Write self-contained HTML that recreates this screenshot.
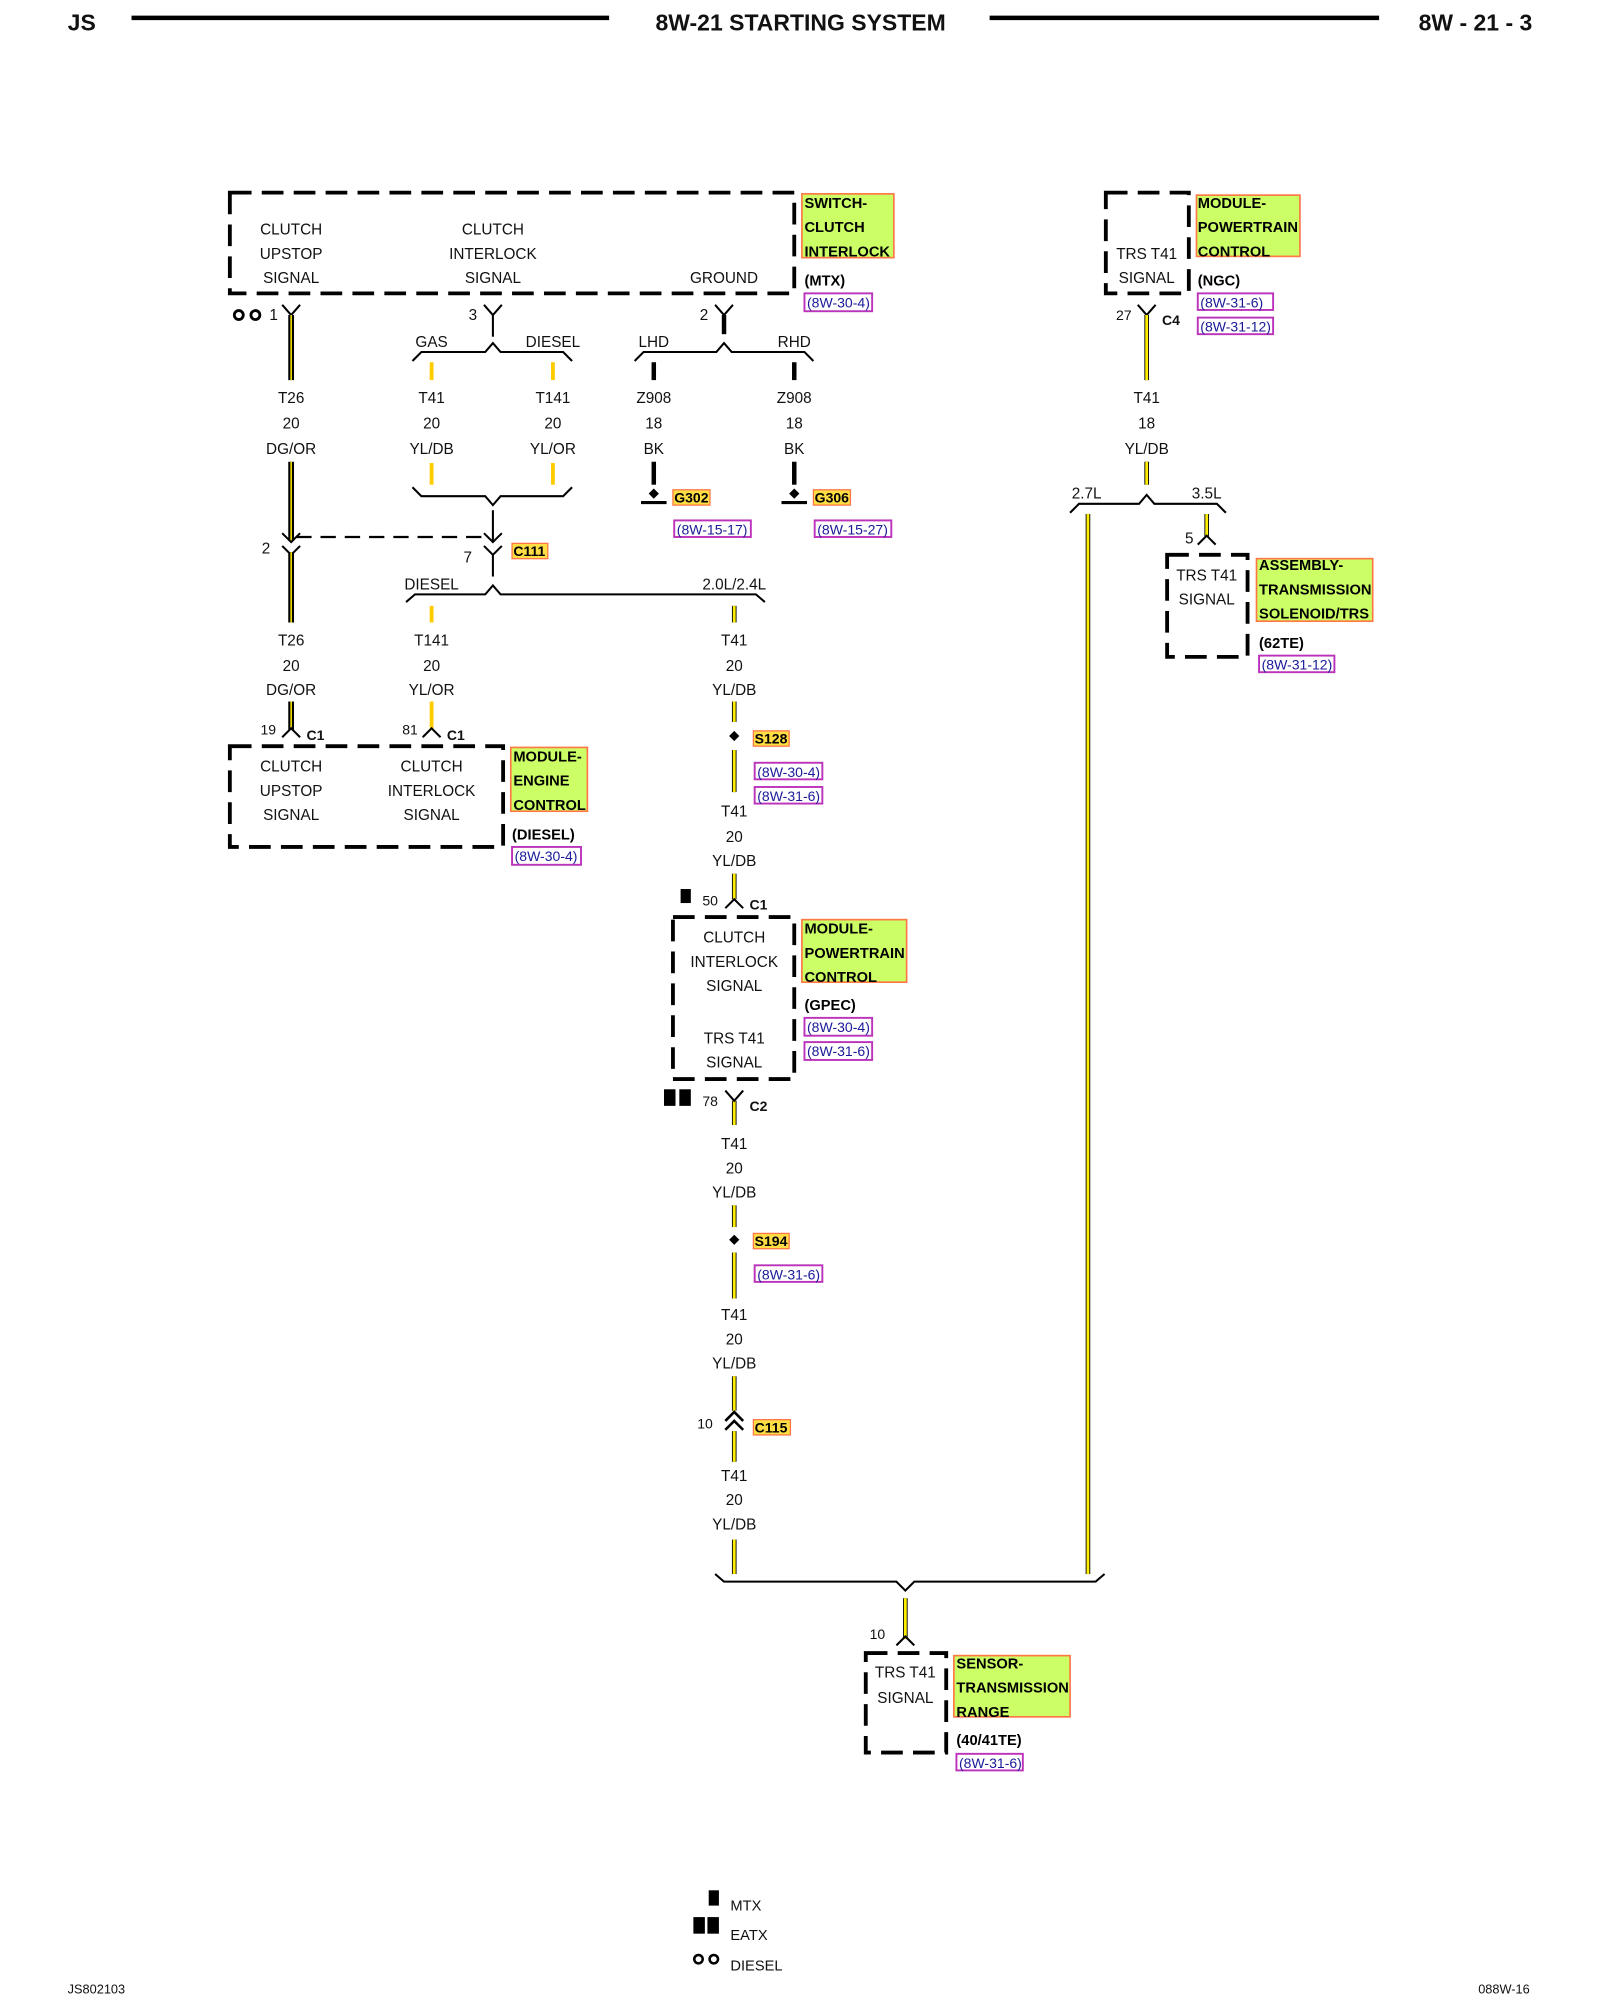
<!DOCTYPE html>
<html><head><meta charset="utf-8"><style>
html,body{margin:0;padding:0;background:#fff}
svg{display:block}
text{font-family:"Liberation Sans",sans-serif;font-size:12px;fill:#111}
.c{text-anchor:middle}
.b{font-weight:bold}
.h{font-weight:bold;font-size:11.5px;fill:#000}
.r{fill:#1a1a99;font-size:11px}
.dash{fill:none;stroke:#000;stroke-width:3;stroke-dasharray:17 8}
.blk{stroke:#000;stroke-width:1.6;fill:none}
.wk{stroke:#000;stroke-width:4.5;fill:none}
.wy{stroke:#ffee00;stroke-width:2.2;fill:none}
.lb{fill:#ccff66;stroke:#ff7744;stroke-width:1.3}
.rb{fill:none;stroke:#bb33bb;stroke-width:1.5}
</style></head><body>
<svg width="1600" height="2000" viewBox="0 0 1253 1568" preserveAspectRatio="none" xmlns="http://www.w3.org/2000/svg">
<!-- header -->
<text x="53" y="24" class="b" style="font-size:18px">JS</text>
<line x1="103" y1="14" x2="477" y2="14" stroke="#000" stroke-width="3.5"/>
<text x="627" y="24" class="b c" style="font-size:18px">8W-21 STARTING SYSTEM</text>
<line x1="775" y1="14" x2="1080" y2="14" stroke="#000" stroke-width="3.5"/>
<text x="1200" y="24" class="b" text-anchor="end" style="font-size:18px">8W - 21 - 3</text>

<!-- Switch clutch interlock -->
<rect x="180" y="151" width="442" height="79" class="dash"/>
<text x="228" y="184" class="c">CLUTCH</text><text x="228" y="203" class="c">UPSTOP</text><text x="228" y="222" class="c">SIGNAL</text>
<text x="386" y="184" class="c">CLUTCH</text><text x="386" y="203" class="c">INTERLOCK</text><text x="386" y="222" class="c">SIGNAL</text>
<text x="567" y="222" class="c">GROUND</text>
<rect x="628" y="152" width="72" height="50" class="lb"/>
<text x="630" y="163" class="h">SWITCH-</text><text x="630" y="182" class="h">CLUTCH</text><text x="630" y="201" class="h">INTERLOCK</text>
<text x="630" y="224" class="h">(MTX)</text>
<rect x="630" y="230" width="53" height="14" class="rb"/><text x="632" y="241" class="r">(8W-30-4)</text>

<!-- pin 1 T26 -->
<circle cx="187" cy="247" r="3.5" fill="none" stroke="#000" stroke-width="2.2"/><circle cx="200" cy="247" r="3.5" fill="none" stroke="#000" stroke-width="2.2"/>
<text x="211" y="251">1</text>
<path d="M221 239 L228 247 L235 239" class="blk"/>
<line x1="228" y1="247" x2="228" y2="298" class="wk"/><line x1="228" y1="247" x2="228" y2="298" class="wy" style="stroke-width:1.2"/>
<text x="228" y="316" class="c">T26</text><text x="228" y="336" class="c">20</text><text x="228" y="356" class="c">DG/OR</text>
<line x1="228" y1="362" x2="228" y2="424" class="wk"/><line x1="228" y1="362" x2="228" y2="424" class="wy" style="stroke-width:1.2"/>
<path d="M221 418 L228 425 L235 418" class="blk"/>
<path d="M221 428 L228 435 L235 428" class="blk"/>
<text x="205" y="434">2</text>
<line x1="232" y1="421" x2="383" y2="421" stroke="#000" stroke-width="1.8" stroke-dasharray="12 7"/>
<line x1="228" y1="433" x2="228" y2="488" class="wk"/><line x1="228" y1="433" x2="228" y2="488" class="wy" style="stroke-width:1.2"/>
<text x="228" y="506" class="c">T26</text><text x="228" y="526" class="c">20</text><text x="228" y="545" class="c">DG/OR</text>
<line x1="228" y1="550" x2="228" y2="572" class="wk"/><line x1="228" y1="550" x2="228" y2="572" class="wy" style="stroke-width:1.2"/>
<path d="M221 578 L228 571 L235 578" class="blk"/>
<text x="204" y="576" style="font-size:11px">19</text><text x="240" y="580" class="b" style="font-size:11px">C1</text>

<!-- pin 3 -->
<text x="367" y="251">3</text>
<path d="M379 239 L386 247 L393 239" class="blk"/><line x1="386" y1="247" x2="386" y2="264" class="blk"/>
<text x="338" y="272" class="c">GAS</text><text x="433" y="272" class="c">DIESEL</text>
<path d="M323 283 L330 276 L380 276 L386 269 L392 276 L441 276 L448 283" class="blk"/>
<line x1="338" y1="284" x2="338" y2="298" stroke="#ffcc00" stroke-width="3"/>
<line x1="433" y1="284" x2="433" y2="298" stroke="#ffcc00" stroke-width="3"/>
<text x="338" y="316" class="c">T41</text><text x="338" y="336" class="c">20</text><text x="338" y="356" class="c">YL/DB</text>
<text x="433" y="316" class="c">T141</text><text x="433" y="336" class="c">20</text><text x="433" y="356" class="c">YL/OR</text>
<line x1="338" y1="363" x2="338" y2="380" stroke="#ffcc00" stroke-width="3"/>
<line x1="433" y1="363" x2="433" y2="380" stroke="#ffcc00" stroke-width="3"/>
<path d="M323 382 L330 389 L380 389 L386 396 L392 389 L441 389 L448 382" class="blk"/>
<line x1="386" y1="400" x2="386" y2="425" class="blk"/>
<path d="M379 418 L386 425 L393 418" class="blk"/>
<path d="M379 428 L386 435 L393 428" class="blk"/><line x1="386" y1="435" x2="386" y2="452" class="blk"/>
<text x="363" y="441">7</text>
<rect x="401" y="426" width="28" height="12" fill="#ffdd44" stroke="#ff7744" stroke-width="1"/><text x="402" y="436" class="h" style="font-size:11px">C111</text>
<text x="338" y="462" class="c">DIESEL</text><text x="575" y="462" class="c">2.0L/2.4L</text>
<path d="M318 472 L325 466 L380 466 L386 459 L392 466 L592 466 L599 472" class="blk"/>

<!-- T141 down -->
<line x1="338" y1="475" x2="338" y2="488" stroke="#ffcc00" stroke-width="3"/>
<text x="338" y="506" class="c">T141</text><text x="338" y="526" class="c">20</text><text x="338" y="545" class="c">YL/OR</text>
<line x1="338" y1="550" x2="338" y2="572" stroke="#ffcc00" stroke-width="3"/>
<path d="M331 578 L338 571 L345 578" class="blk"/>
<text x="315" y="576" style="font-size:11px">81</text><text x="350" y="580" class="b" style="font-size:11px">C1</text>

<!-- module engine control -->
<rect x="180" y="585" width="214" height="79" class="dash"/>
<text x="228" y="605" class="c">CLUTCH</text><text x="228" y="624" class="c">UPSTOP</text><text x="228" y="643" class="c">SIGNAL</text>
<text x="338" y="605" class="c">CLUTCH</text><text x="338" y="624" class="c">INTERLOCK</text><text x="338" y="643" class="c">SIGNAL</text>
<rect x="400" y="586" width="60" height="50" class="lb"/>
<text x="402" y="597" class="h">MODULE-</text><text x="402" y="616" class="h">ENGINE</text><text x="402" y="635" class="h">CONTROL</text>
<text x="401" y="658" class="h">(DIESEL)</text>
<rect x="401" y="664" width="54" height="14" class="rb"/><text x="403" y="675" class="r">(8W-30-4)</text>

<!-- T41 center -->
<g stroke-linecap="butt">
<line x1="575" y1="475" x2="575" y2="488" class="wk" style="stroke-width:3.6"/><line x1="575" y1="475" x2="575" y2="488" class="wy"/>
<line x1="575" y1="550" x2="575" y2="566" class="wk" style="stroke-width:3.6"/><line x1="575" y1="550" x2="575" y2="566" class="wy"/>
<line x1="575" y1="588" x2="575" y2="621" class="wk" style="stroke-width:3.6"/><line x1="575" y1="588" x2="575" y2="621" class="wy"/>
<line x1="575" y1="685" x2="575" y2="705" class="wk" style="stroke-width:3.6"/><line x1="575" y1="685" x2="575" y2="705" class="wy"/>
<line x1="575" y1="863" x2="575" y2="882" class="wk" style="stroke-width:3.6"/><line x1="575" y1="863" x2="575" y2="882" class="wy"/>
<line x1="575" y1="945" x2="575" y2="962" class="wk" style="stroke-width:3.6"/><line x1="575" y1="945" x2="575" y2="962" class="wy"/>
<line x1="575" y1="982" x2="575" y2="1018" class="wk" style="stroke-width:3.6"/><line x1="575" y1="982" x2="575" y2="1018" class="wy"/>
<line x1="575" y1="1079" x2="575" y2="1106" class="wk" style="stroke-width:3.6"/><line x1="575" y1="1079" x2="575" y2="1106" class="wy"/>
<line x1="575" y1="1122" x2="575" y2="1146" class="wk" style="stroke-width:3.6"/><line x1="575" y1="1122" x2="575" y2="1146" class="wy"/>
<line x1="575" y1="1207" x2="575" y2="1234" class="wk" style="stroke-width:3.6"/><line x1="575" y1="1207" x2="575" y2="1234" class="wy"/>
</g>
<text x="575" y="506" class="c">T41</text><text x="575" y="526" class="c">20</text><text x="575" y="545" class="c">YL/DB</text>
<path d="M575 573 L579 577 L575 581 L571 577 Z" fill="#000"/>
<rect x="590" y="573" width="28" height="12" fill="#ffdd44" stroke="#ff7744" stroke-width="1"/><text x="591" y="583" class="h" style="font-size:11px">S128</text>
<rect x="591" y="598" width="53" height="13" class="rb"/><text x="593" y="609" class="r">(8W-30-4)</text>
<rect x="591" y="617" width="53" height="13" class="rb"/><text x="593" y="628" class="r">(8W-31-6)</text>
<text x="575" y="640" class="c">T41</text><text x="575" y="660" class="c">20</text><text x="575" y="679" class="c">YL/DB</text>
<rect x="533" y="697" width="8" height="11" fill="#000"/>
<text x="550" y="710" style="font-size:11px">50</text>
<path d="M568 712 L575 705 L582 712" class="blk"/>
<text x="587" y="713" class="b" style="font-size:11px">C1</text>

<!-- PCM GPEC -->
<rect x="527" y="719" width="95" height="127" class="dash"/>
<text x="575" y="739" class="c">CLUTCH</text><text x="575" y="758" class="c">INTERLOCK</text><text x="575" y="777" class="c">SIGNAL</text>
<text x="575" y="818" class="c">TRS T41</text><text x="575" y="837" class="c">SIGNAL</text>
<rect x="628" y="721" width="82" height="49" class="lb"/>
<text x="630" y="732" class="h">MODULE-</text><text x="630" y="751" class="h">POWERTRAIN</text><text x="630" y="770" class="h">CONTROL</text>
<text x="630" y="792" class="h">(GPEC)</text>
<rect x="630" y="798" width="53" height="14" class="rb"/><text x="632" y="809" class="r">(8W-30-4)</text>
<rect x="630" y="817" width="53" height="14" class="rb"/><text x="632" y="828" class="r">(8W-31-6)</text>

<rect x="520" y="854" width="9" height="13" fill="#000"/><rect x="532" y="854" width="9" height="13" fill="#000"/>
<text x="550" y="867" style="font-size:11px">78</text>
<path d="M568 855 L575 863 L582 855" class="blk"/>
<text x="587" y="871" class="b" style="font-size:11px">C2</text>
<text x="575" y="901" class="c">T41</text><text x="575" y="920" class="c">20</text><text x="575" y="939" class="c">YL/DB</text>
<path d="M575 968 L579 972 L575 976 L571 972 Z" fill="#000"/>
<rect x="590" y="967" width="28" height="12" fill="#ffdd44" stroke="#ff7744" stroke-width="1"/><text x="591" y="977" class="h" style="font-size:11px">S194</text>
<rect x="591" y="992" width="53" height="13" class="rb"/><text x="593" y="1003" class="r">(8W-31-6)</text>
<text x="575" y="1035" class="c">T41</text><text x="575" y="1054" class="c">20</text><text x="575" y="1073" class="c">YL/DB</text>
<path d="M568 1114 L575 1107 L582 1114" class="blk" style="stroke-width:2"/>
<path d="M568 1121 L575 1114 L582 1121" class="blk" style="stroke-width:2"/>
<text x="546" y="1120" style="font-size:11px">10</text>
<rect x="590" y="1113" width="29" height="12" fill="#ffdd44" stroke="#ff7744" stroke-width="1"/><text x="591" y="1123" class="h" style="font-size:11px">C115</text>
<text x="575" y="1161" class="c">T41</text><text x="575" y="1180" class="c">20</text><text x="575" y="1199" class="c">YL/DB</text>

<!-- bottom bracket -->
<path d="M560 1234 L567 1240 L702 1240 L709 1247 L716 1240 L858 1240 L865 1234" class="blk"/>
<line x1="709" y1="1253" x2="709" y2="1285" class="wk" style="stroke-width:3.6"/><line x1="709" y1="1253" x2="709" y2="1285" class="wy"/>
<path d="M702 1290 L709 1283 L716 1290" class="blk"/>
<text x="681" y="1285" style="font-size:11px">10</text>
<rect x="678" y="1296" width="63" height="78" class="dash"/>
<text x="709" y="1315" class="c">TRS T41</text><text x="709" y="1335" class="c">SIGNAL</text>
<rect x="747" y="1298" width="91" height="48" class="lb"/>
<text x="749" y="1308" class="h">SENSOR-</text><text x="749" y="1327" class="h">TRANSMISSION</text><text x="749" y="1346" class="h">RANGE</text>
<text x="749" y="1368" class="h">(40/41TE)</text>
<rect x="749" y="1375" width="52" height="13" class="rb"/><text x="751" y="1386" class="r">(8W-31-6)</text>

<!-- LHD/RHD ground -->
<text x="548" y="251">2</text>
<path d="M560 239 L567 247 L574 239" class="blk"/><line x1="567" y1="247" x2="567" y2="262" stroke="#000" stroke-width="3.5"/>
<text x="512" y="272" class="c">LHD</text><text x="622" y="272" class="c">RHD</text>
<path d="M497 283 L504 276 L561 276 L567 269 L573 276 L630 276 L637 283" class="blk"/>
<line x1="512" y1="284" x2="512" y2="298" stroke="#000" stroke-width="3.5"/>
<line x1="622" y1="284" x2="622" y2="298" stroke="#000" stroke-width="3.5"/>
<text x="512" y="316" class="c">Z908</text><text x="512" y="336" class="c">18</text><text x="512" y="356" class="c">BK</text>
<text x="622" y="316" class="c">Z908</text><text x="622" y="336" class="c">18</text><text x="622" y="356" class="c">BK</text>
<line x1="512" y1="362" x2="512" y2="380" stroke="#000" stroke-width="3.5"/>
<line x1="622" y1="362" x2="622" y2="380" stroke="#000" stroke-width="3.5"/>
<path d="M512 383 L516 387 L512 391 L508 387 Z" fill="#000"/><line x1="502" y1="394" x2="522" y2="394" stroke="#000" stroke-width="2.5"/>
<path d="M622 383 L626 387 L622 391 L618 387 Z" fill="#000"/><line x1="612" y1="394" x2="632" y2="394" stroke="#000" stroke-width="2.5"/>
<rect x="527" y="384" width="29" height="12" fill="#ffdd44" stroke="#ff7744" stroke-width="1"/><text x="528" y="394" class="h" style="font-size:11px">G302</text>
<rect x="637" y="384" width="29" height="12" fill="#ffdd44" stroke="#ff7744" stroke-width="1"/><text x="638" y="394" class="h" style="font-size:11px">G306</text>
<rect x="528" y="408" width="60" height="13" class="rb"/><text x="530" y="419" class="r">(8W-15-17)</text>
<rect x="638" y="408" width="60" height="13" class="rb"/><text x="640" y="419" class="r">(8W-15-27)</text>

<!-- right PCM NGC -->
<rect x="866" y="151" width="65" height="79" class="dash"/>
<text x="898" y="203" class="c">TRS T41</text><text x="898" y="222" class="c">SIGNAL</text>
<rect x="937" y="153" width="81" height="48" class="lb"/>
<text x="938" y="163" class="h">MODULE-</text><text x="938" y="182" class="h">POWERTRAIN</text><text x="938" y="201" class="h">CONTROL</text>
<text x="938" y="224" class="h">(NGC)</text>
<rect x="938" y="230" width="59" height="13" class="rb"/><text x="940" y="241" class="r">(8W-31-6)</text>
<rect x="938" y="249" width="59" height="13" class="rb"/><text x="940" y="260" class="r">(8W-31-12)</text>
<text x="874" y="251" style="font-size:11px">27</text>
<path d="M891 239 L898 247 L905 239" class="blk"/>
<text x="910" y="255" class="b" style="font-size:11px">C4</text>
<line x1="898" y1="247" x2="898" y2="298" class="wk" style="stroke-width:3.6"/><line x1="898" y1="247" x2="898" y2="298" class="wy"/>
<text x="898" y="316" class="c">T41</text><text x="898" y="336" class="c">18</text><text x="898" y="356" class="c">YL/DB</text>
<line x1="898" y1="362" x2="898" y2="380" class="wk" style="stroke-width:3.6"/><line x1="898" y1="362" x2="898" y2="380" class="wy"/>
<text x="851" y="391" class="c">2.7L</text><text x="945" y="391" class="c">3.5L</text>
<path d="M838 402 L845 395 L892 395 L898 388 L904 395 L953 395 L960 402" class="blk"/>
<line x1="852" y1="403" x2="852" y2="1234" class="wk" style="stroke-width:3.6"/><line x1="852" y1="403" x2="852" y2="1234" class="wy"/>
<line x1="945" y1="403" x2="945" y2="421" class="wk" style="stroke-width:3.6"/><line x1="945" y1="403" x2="945" y2="421" class="wy"/>
<path d="M938 427 L945 420 L952 427" class="blk"/>
<text x="928" y="426">5</text>
<rect x="914" y="435" width="63" height="80" class="dash"/>
<text x="945" y="455" class="c">TRS T41</text><text x="945" y="474" class="c">SIGNAL</text>
<rect x="984" y="438" width="91" height="49" class="lb"/>
<text x="986" y="447" class="h">ASSEMBLY-</text><text x="986" y="466" class="h">TRANSMISSION</text><text x="986" y="485" class="h">SOLENOID/TRS</text>
<text x="986" y="508" class="h">(62TE)</text>
<rect x="986" y="514" width="59" height="13" class="rb"/><text x="988" y="525" class="r">(8W-31-12)</text>

<!-- legend -->
<rect x="555" y="1482" width="8" height="12" fill="#000"/>
<text x="572" y="1498" style="font-size:11.5px">MTX</text>
<rect x="543" y="1503" width="9" height="13" fill="#000"/><rect x="554" y="1503" width="9" height="13" fill="#000"/>
<text x="572" y="1521" style="font-size:11.5px">EATX</text>
<circle cx="547" cy="1536" r="3.3" fill="none" stroke="#000" stroke-width="2"/><circle cx="559" cy="1536" r="3.3" fill="none" stroke="#000" stroke-width="2"/>
<text x="572" y="1545" style="font-size:11.5px">DIESEL</text>

<text x="53" y="1563" style="font-size:10px">JS802103</text>
<text x="1198" y="1563" text-anchor="end" style="font-size:10px">088W-16</text>
</svg>
</body></html>
